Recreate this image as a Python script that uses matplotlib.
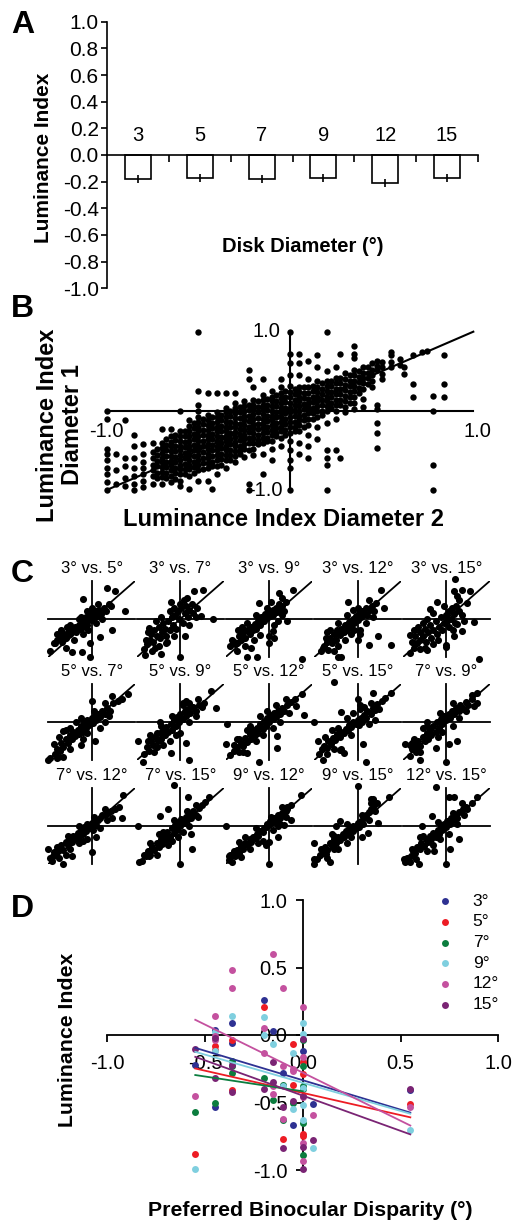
import numpy as np
import matplotlib.pyplot as plt

plt.rcParams["font.family"] = ["Liberation Sans", "DejaVu Sans"]

FIG_W, FIG_H = 514, 1225

# ---------------- Panel A: mean luminance index per disk diameter
diameters = ["3", "5", "7", "9", "12", "15"]
lum_mean = [-0.18, -0.17, -0.18, -0.17, -0.21, -0.17]
lum_sem = [0.03, 0.03, 0.03, 0.03, 0.03, 0.03]

# ---------------- Panel B: all diameter pairs pooled (columns of x with their y values)
b_cols_x = [-1.0, -0.95, -0.9, -0.85, -0.8, -0.75, -0.725, -0.7, -0.675, -0.65,
            -0.625, -0.6, -0.575, -0.55, -0.525, -0.5, -0.475, -0.45, -0.425, -0.4,
            -0.375, -0.35, -0.325, -0.3, -0.275, -0.25, -0.225, -0.2, -0.175, -0.15,
            -0.125, -0.1, -0.075, -0.05, -0.025, 0.0, 0.025, 0.05, 0.075, 0.1,
            0.125, 0.15, 0.175, 0.2, 0.225, 0.25, 0.275, 0.3, 0.325, 0.35,
            0.375, 0.4, 0.425, 0.45, 0.475, 0.5, 0.55, 0.6, 0.62, 0.67,
            0.72, 0.75, 0.78, 0.84]
b_cols_y = [
    [0.0, -0.1, -0.48, -0.55, -0.62, -0.72, -0.8, -0.9, -1.0],
    [-0.55, -0.75, -0.93],
    [-0.12, -0.59, -0.7, -0.85, -0.95],
    [-0.3, -0.45, -0.6, -0.72, -0.82, -0.92, -1.0],
    [-0.42, -0.55, -0.65, -0.72, -0.8, -0.88, -0.96],
    [-0.4, -0.52, -0.6, -0.68, -0.75, -0.82, -0.93],
    [-0.48, -0.56, -0.63, -0.7, -0.78, -0.85],
    [-0.23, -0.4, -0.47, -0.53, -0.59, -0.65, -0.71, -0.77, -0.84, -0.92],
    [-0.36, -0.43, -0.5, -0.57, -0.64, -0.71, -0.78, -0.85],
    [-0.23, -0.32, -0.39, -0.45, -0.51, -0.57, -0.63, -0.69, -0.75, -0.82, -0.9],
    [-0.3, -0.37, -0.44, -0.51, -0.58, -0.65, -0.72, -0.79, -0.86],
    [0.0, -0.26, -0.32, -0.38, -0.44, -0.5, -0.56, -0.62, -0.68, -0.74, -0.8, -0.88, -0.95],
    [-0.25, -0.32, -0.39, -0.46, -0.53, -0.6, -0.67, -0.74, -0.8],
    [-0.12, -0.19, -0.26, -0.32, -0.38, -0.44, -0.5, -0.56, -0.62, -0.68, -0.74, -0.82, -0.99],
    [-0.15, -0.22, -0.29, -0.36, -0.43, -0.5, -0.57, -0.64, -0.71, -0.78],
    [1.0, 0.25, 0.08, 0.0, -0.08, -0.14, -0.2, -0.26, -0.32, -0.38, -0.44, -0.5, -0.56, -0.62, -0.68, -0.75, -0.88],
    [-0.1, -0.17, -0.24, -0.31, -0.38, -0.45, -0.52, -0.59, -0.66, -0.74],
    [0.23, -0.05, -0.12, -0.18, -0.24, -0.3, -0.36, -0.42, -0.48, -0.54, -0.6, -0.66, -0.72, -0.89],
    [-0.08, -0.15, -0.22, -0.29, -0.36, -0.43, -0.5, -0.57, -0.64, -0.7, -0.99],
    [0.23, -0.02, -0.08, -0.14, -0.2, -0.26, -0.32, -0.38, -0.44, -0.5, -0.56, -0.62, -0.7, -0.8],
    [-0.05, -0.12, -0.19, -0.26, -0.33, -0.4, -0.47, -0.54, -0.61, -0.68],
    [0.23, 0.04, -0.02, -0.08, -0.14, -0.2, -0.26, -0.32, -0.38, -0.44, -0.5, -0.56, -0.62, -0.72],
    [0.0, -0.07, -0.14, -0.21, -0.28, -0.35, -0.42, -0.49, -0.56, -0.62],
    [0.23, 0.1, 0.03, -0.03, -0.09, -0.15, -0.21, -0.27, -0.33, -0.39, -0.45, -0.51, -0.57, -0.65],
    [0.05, -0.02, -0.09, -0.16, -0.23, -0.3, -0.37, -0.44, -0.5, -0.55],
    [0.12, 0.06, 0.0, -0.06, -0.12, -0.18, -0.24, -0.3, -0.36, -0.42, -0.48, -0.58],
    [0.51, 0.4, 0.08, 0.01, -0.06, -0.13, -0.2, -0.27, -0.34, -0.41, -0.5, -0.93, -1.0],
    [0.3, 0.14, 0.08, 0.02, -0.04, -0.1, -0.16, -0.22, -0.28, -0.34, -0.4, -0.48, -0.56],
    [0.12, 0.05, -0.02, -0.09, -0.16, -0.23, -0.3, -0.37, -0.42],
    [0.4, 0.2, 0.14, 0.08, 0.02, -0.04, -0.1, -0.16, -0.22, -0.28, -0.34, -0.4, -0.55, -0.8],
    [0.15, 0.08, 0.01, -0.06, -0.13, -0.2, -0.27, -0.34, -0.38],
    [0.25, 0.18, 0.12, 0.06, 0.0, -0.06, -0.12, -0.18, -0.24, -0.3, -0.38, -0.48, -0.62],
    [0.2, 0.13, 0.06, -0.01, -0.08, -0.15, -0.22, -0.28, -0.32],
    [0.4, 0.3, 0.22, 0.16, 0.1, 0.04, -0.02, -0.08, -0.14, -0.2, -0.26, -0.34, -0.45],
    [0.25, 0.18, 0.11, 0.04, -0.03, -0.1, -0.17, -0.24, -0.3],
    [1.0, 0.72, 0.61, 0.45, 0.32, 0.24, 0.17, 0.1, 0.04, -0.02, -0.08, -0.14, -0.2, -0.28, -0.38, -0.5, -0.62, -0.72, -1.0],
    [0.28, 0.21, 0.14, 0.07, 0.0, -0.07, -0.14, -0.21, -0.25],
    [0.72, 0.61, 0.45, 0.3, 0.24, 0.18, 0.12, 0.06, 0.0, -0.06, -0.12, -0.18, -0.25, -0.4, -0.55],
    [0.3, 0.23, 0.16, 0.09, 0.02, -0.05, -0.12, -0.2],
    [0.63, 0.4, 0.3, 0.22, 0.15, 0.09, 0.03, -0.03, -0.1, -0.18, -0.3, -0.45, -0.59],
    [0.32, 0.25, 0.18, 0.11, 0.04, -0.03, -0.1],
    [0.7, 0.55, 0.38, 0.3, 0.24, 0.18, 0.12, 0.06, 0.0, -0.08, -0.2, -0.35],
    [0.35, 0.28, 0.21, 0.14, 0.07, 0.0, -0.05],
    [1.0, 0.5, 0.38, 0.32, 0.25, 0.18, 0.12, 0.06, 0.0, -0.15, -0.5, -0.59, -0.68, -1.0],
    [0.38, 0.31, 0.24, 0.17, 0.1, 0.03],
    [0.55, 0.42, 0.35, 0.28, 0.21, 0.14, 0.07, 0.0, -0.1, -0.5],
    [0.72, 0.42, 0.35, 0.28, 0.21, 0.14, 0.07, -0.59],
    [0.48, 0.4, 0.33, 0.26, 0.19, 0.12, 0.05, -0.02],
    [0.45, 0.38, 0.31, 0.24, 0.17, 0.1],
    [0.82, 0.72, 0.67, 0.52, 0.45, 0.38, 0.32, 0.25, 0.18, 0.1, 0.02],
    [0.5, 0.43, 0.36, 0.29, 0.22],
    [0.55, 0.48, 0.42, 0.35, 0.28, 0.15, 0.05],
    [0.55, 0.48, 0.41, 0.34],
    [0.6, 0.52, 0.45, 0.38, 0.3],
    [0.63, 0.57, 0.51, 0.08, 0.02, -0.15, -0.28, -0.47],
    [0.62, 0.55, 0.47, 0.4],
    [0.74, 0.7, 0.62, 0.55],
    [0.66, 0.58],
    [0.55, 0.46],
    [0.7, 0.34, 0.17],
    [0.74],
    [0.75],
    [0.19, 0.0, -0.68, -1.0],
    [0.7, 0.34, 0.17],
]
b_lims = [-1.0, 1.0]

# ---------------- Panel C: each pair of diameters (x = diameter 2, y = diameter 1)
c_titles = ["3° vs. 5°", "3° vs. 7°", "3° vs. 9°", "3° vs. 12°", "3° vs. 15°",
            "5° vs. 7°", "5° vs. 9°", "5° vs. 12°", "5° vs. 15°", "7° vs. 9°",
            "7° vs. 12°", "7° vs. 15°", "9° vs. 12°", "9° vs. 15°", "12° vs. 15°"]
c_3v5 = [(-0.88, -0.62), (-0.8, -0.55), (-0.72, -0.5), (-0.65, -0.42), (-0.6, -0.5), (-0.55, -0.35),
         (-0.5, -0.4), (-0.48, -0.28), (-0.42, -0.3), (-0.38, -0.2), (-0.35, -0.35), (-0.3, -0.15),
         (-0.28, -0.25), (-0.22, -0.1), (-0.2, -0.2), (-0.15, -0.05), (-0.12, 0.05), (-0.1, -0.15),
         (-0.05, 0.1), (-0.02, -0.02), (0.02, 0.15), (0.05, 0.05), (0.1, 0.2), (0.12, 0.08), (0.18, 0.25),
         (0.22, 0.12), (0.28, 0.3), (0.32, 0.2), (0.4, 0.4), (0.45, 0.35), (-0.68, -0.6), (-0.58, -0.2),
         (-0.25, 0.05), (0.0, 0.3), (-0.08, -0.3), (0.35, 0.82), (0.54, 0.73), (-0.21, 0.52), (0.77, 0.2),
         (0.46, -0.3), (0.19, -0.48), (-0.04, -0.64), (-0.04, -1.0), (-0.45, -0.88), (-0.23, -0.88),
         (-0.85, -0.64), (-0.69, -0.36), (-0.95, -0.85),
         (-0.7, -0.3), (-0.5, -0.15), (-0.3, 0.0), (-0.1, 0.2), (-0.4, -0.55), (-0.2, -0.4),
         (0.1, -0.1), (0.25, 0.0), (-0.6, -0.75), (0.15, 0.4), (-0.8, -0.4)]
c_3v7 = [(-0.85, -0.8), (-0.78, -0.65), (-0.7, -0.55), (-0.68, -0.4), (-0.62, -0.6), (-0.6, -0.3),
         (-0.55, -0.45), (-0.5, -0.2), (-0.48, -0.5), (-0.42, -0.35), (-0.4, -0.1), (-0.35, -0.25),
         (-0.32, -0.45), (-0.28, -0.05), (-0.25, -0.3), (-0.2, 0.05), (-0.18, -0.15), (-0.12, 0.1),
         (-0.1, -0.25), (-0.05, 0.2), (-0.02, 0.0), (0.02, 0.3), (0.05, -0.1), (0.1, 0.15), (0.12, 0.35),
         (0.18, 0.05), (0.2, 0.25), (0.28, 0.4), (0.3, 0.15), (0.38, 0.3), (-0.15, 0.3), (0.08, 0.5),
         (-0.58, -0.75), (-0.3, -0.6), (0.32, 0.73), (0.52, 0.77), (-0.22, 0.45), (0.75, 0.0), (0.48, 0.09),
         (-0.72, -0.23), (-0.79, -0.55), (-0.45, -0.91), (-0.81, -0.95), (0.0, -1.0), (-0.56, -0.05),
         (-0.33, -0.64), (0.1, -0.45),
         (-0.75, -0.35), (-0.45, 0.05), (-0.25, 0.2), (0.0, 0.4), (-0.5, -0.7), (-0.15, -0.45),
         (0.2, -0.15), (0.35, 0.05), (-0.65, -0.85), (0.15, 0.55)]
c_3v9 = [(-0.9, -0.7), (-0.82, -0.6), (-0.75, -0.62), (-0.7, -0.45), (-0.65, -0.55), (-0.6, -0.38),
         (-0.55, -0.5), (-0.5, -0.3), (-0.45, -0.4), (-0.42, -0.2), (-0.38, -0.3), (-0.32, -0.12),
         (-0.3, -0.25), (-0.25, -0.05), (-0.2, -0.15), (-0.18, 0.05), (-0.12, -0.05), (-0.1, 0.12),
         (-0.05, 0.02), (0.0, 0.18), (0.02, 0.08), (0.08, 0.25), (0.1, 0.1), (0.15, 0.3), (0.18, 0.18),
         (0.22, 0.4), (0.25, 0.25), (0.3, 0.35), (0.35, 0.2), (0.4, 0.45), (-0.35, -0.55), (0.05, 0.45),
         (-0.62, -0.2), (0.12, -0.15), (0.55, 0.77), (0.23, 0.68), (-0.23, 0.41), (0.42, -0.05),
         (0.08, -0.32), (0.0, -0.64), (-0.42, -0.77), (-0.5, -1.0), (-0.27, -1.0), (0.77, -1.05),
         (-0.85, -0.55), (-0.78, -0.65), (0.0, -0.45), (0.12, -0.5),
         (-0.72, -0.3), (-0.5, -0.1), (-0.3, 0.1), (-0.05, 0.3), (-0.55, -0.72), (-0.2, -0.42),
         (0.2, -0.05), (0.3, 0.1), (-0.75, -0.85), (0.3, 0.55)]
c_3v12 = [(-0.85, -0.85), (-0.78, -0.7), (-0.72, -0.6), (-0.65, -0.5), (-0.6, -0.62), (-0.55, -0.4),
          (-0.5, -0.55), (-0.48, -0.3), (-0.42, -0.42), (-0.38, -0.25), (-0.32, -0.35), (-0.3, -0.15),
          (-0.25, -0.28), (-0.2, -0.08), (-0.15, -0.2), (-0.12, 0.0), (-0.08, -0.1), (-0.05, 0.08),
          (0.0, -0.02), (0.02, 0.15), (0.08, 0.05), (0.1, 0.22), (0.15, 0.12), (0.2, 0.28), (0.22, 0.1),
          (0.28, 0.25), (0.32, 0.35), (0.38, 0.2), (0.42, 0.42), (-0.65, -0.3), (-0.3, -0.55), (0.05, -0.3),
          (-0.1, 0.25), (0.54, 0.77), (-0.23, 0.45), (0.46, -0.45), (0.77, -0.68), (0.27, -0.68),
          (0.0, -0.55), (-0.08, -0.3), (0.05, -0.4), (-0.46, -1.0), (-0.38, -1.0), (-0.81, -0.77),
          (-0.73, -0.5), (-0.55, -0.85), (0.6, 0.3),
          (-0.7, -0.35), (-0.45, -0.1), (-0.25, 0.1), (0.0, 0.3), (-0.45, -0.7), (-0.15, -0.4),
          (0.2, -0.1), (0.35, 0.05), (-0.68, -0.82), (0.25, 0.5)]
c_3v15 = [(-0.85, -0.9), (-0.8, -0.6), (-0.75, -0.75), (-0.72, -0.45), (-0.68, -0.62), (-0.62, -0.35),
          (-0.6, -0.55), (-0.55, -0.45), (-0.5, -0.25), (-0.48, -0.6), (-0.42, -0.35), (-0.38, -0.15),
          (-0.35, -0.5), (-0.3, -0.28), (-0.25, -0.05), (-0.22, -0.4), (-0.18, -0.2), (-0.12, 0.05),
          (-0.1, -0.3), (-0.05, -0.1), (0.0, 0.1), (0.02, -0.05), (0.05, 0.2), (0.1, 0.0), (0.12, 0.3),
          (0.18, 0.12), (0.22, 0.35), (0.28, 0.2), (0.3, 0.5), (0.35, 0.1), (-0.45, 0.0), (-0.65, -0.2),
          (0.05, -0.2), (0.2, -0.1), (0.19, 1.06), (0.35, 0.77), (0.17, 0.73), (0.55, 0.73), (-0.22, 0.45),
          (-0.37, 0.27), (0.48, 0.41), (0.25, -0.14), (0.63, -0.09), (0.17, -0.45), (0.36, -0.32),
          (0.0, -0.73), (0.0, -0.68), (0.75, -1.05), (-0.83, -0.41), (-0.75, -0.64), (-0.45, -0.82),
          (-0.3, -0.65),
          (-0.75, -0.3), (-0.55, -0.1), (-0.3, 0.15), (-0.05, 0.35), (-0.6, -0.8), (-0.2, -0.55),
          (0.15, -0.3), (0.4, -0.05), (-0.5, -0.75), (0.25, 0.6)]
c_5v7 = [(-0.95, -0.95), (-0.85, -0.85), (-0.8, -0.7), (-0.72, -0.75), (-0.7, -0.55), (-0.65, -0.65),
         (-0.6, -0.45), (-0.55, -0.55), (-0.5, -0.35), (-0.45, -0.45), (-0.42, -0.25), (-0.38, -0.38),
         (-0.32, -0.2), (-0.3, -0.32), (-0.25, -0.1), (-0.2, -0.25), (-0.18, -0.02), (-0.12, -0.15),
         (-0.1, 0.05), (-0.05, -0.08), (0.0, 0.1), (0.02, -0.02), (0.08, 0.15), (0.1, 0.05), (0.15, 0.22),
         (0.2, 0.12), (0.25, 0.3), (0.3, 0.2), (0.35, 0.38), (0.42, 0.3), (0.5, 0.5), (0.6, 0.55),
         (-0.6, -0.2), (-0.2, -0.45), (0.2, -0.15), (-0.35, 0.0), (0.85, 0.73), (0.46, 0.68), (0.0, 0.55),
         (-0.88, -0.59), (-1.0, -1.0), (-0.77, -0.91), (-0.65, -0.91), (0.08, -0.5), (-0.65, -0.23),
         (-0.25, -0.6), (0.7, 0.6),
         (-0.75, -0.4), (-0.5, -0.15), (-0.25, 0.1), (0.05, 0.3), (-0.5, -0.7), (-0.1, -0.3),
         (0.3, 0.0), (0.4, 0.15), (-0.8, -0.95), (0.3, 0.5)]
c_5v9 = [(-0.85, -0.85), (-0.78, -0.65), (-0.72, -0.75), (-0.68, -0.5), (-0.62, -0.6), (-0.58, -0.4),
         (-0.52, -0.5), (-0.48, -0.3), (-0.45, -0.45), (-0.4, -0.2), (-0.35, -0.35), (-0.32, -0.12),
         (-0.28, -0.25), (-0.22, -0.05), (-0.2, -0.2), (-0.15, 0.05), (-0.1, -0.1), (-0.08, 0.12),
         (-0.02, 0.0), (0.0, 0.2), (0.05, 0.08), (0.1, 0.3), (0.12, 0.15), (0.18, 0.35), (0.22, 0.25),
         (0.3, 0.4), (0.35, 0.3), (0.42, 0.45), (0.5, 0.4), (0.55, 0.5), (-0.55, -0.65), (-0.25, -0.5),
         (0.0, -0.3), (0.05, 0.45), (0.82, 0.36), (0.7, 0.82), (0.13, 0.55), (0.05, 0.5), (-0.98, -0.5),
         (-0.87, -1.05), (-0.22, -0.82), (0.13, -0.55), (0.21, -1.0), (-0.48, 0.0), (-0.55, -0.3),
         (-0.4, -0.6),
         (-0.7, -0.35), (-0.45, -0.1), (-0.2, 0.15), (0.2, 0.5), (-0.6, -0.8), (-0.1, -0.35),
         (0.2, 0.0), (0.35, 0.15), (-0.75, -0.5), (0.4, 0.6)]
c_5v12 = [(-0.9, -0.88), (-0.82, -0.75), (-0.75, -0.65), (-0.7, -0.78), (-0.65, -0.55), (-0.6, -0.62),
          (-0.55, -0.42), (-0.5, -0.52), (-0.45, -0.32), (-0.42, -0.45), (-0.38, -0.22), (-0.32, -0.35),
          (-0.28, -0.15), (-0.25, -0.28), (-0.2, -0.05), (-0.15, -0.18), (-0.12, 0.02), (-0.08, -0.1),
          (-0.05, 0.1), (0.0, 0.0), (0.03, 0.18), (0.08, 0.08), (0.12, 0.25), (0.15, 0.12), (0.2, 0.3),
          (0.25, 0.2), (0.3, 0.38), (0.35, 0.28), (0.42, 0.45), (0.5, 0.52), (0.6, 0.6), (-0.3, -0.5),
          (-0.5, -0.2), (0.1, -0.15), (-0.05, 0.3), (0.81, 0.18), (1.04, 0.0), (-0.96, -0.05),
          (-1.0, -0.59), (-0.5, -0.82), (-0.23, -1.05), (0.19, -0.68), (0.19, -0.36), (0.62, 0.41),
          (0.75, 0.75), (-0.7, -0.45),
          (-0.75, -0.45), (-0.45, -0.1), (-0.2, 0.15), (0.15, 0.45), (-0.6, -0.8), (-0.15, -0.35),
          (0.25, 0.0), (0.45, 0.25), (-0.8, -0.6), (0.4, 0.6)]
c_5v15 = [(-0.9, -0.85), (-0.82, -0.72), (-0.78, -0.62), (-0.72, -0.68), (-0.68, -0.5), (-0.62, -0.58),
          (-0.58, -0.42), (-0.52, -0.48), (-0.48, -0.32), (-0.42, -0.4), (-0.38, -0.25), (-0.32, -0.3),
          (-0.28, -0.18), (-0.22, -0.22), (-0.2, -0.08), (-0.15, -0.12), (-0.1, 0.0), (-0.05, -0.05),
          (0.0, 0.05), (0.02, -0.08), (0.08, 0.1), (0.1, 0.0), (0.15, 0.18), (0.2, 0.1), (0.22, 0.28),
          (0.3, 0.22), (0.35, 0.38), (0.4, 0.32), (0.45, 0.48), (0.55, 0.55), (0.62, 0.62), (-0.6, -0.2),
          (-0.1, 0.25), (0.05, 0.35), (-0.54, 1.05), (0.77, 0.77), (0.35, 0.77), (0.0, 0.6), (-0.38, 0.27),
          (0.05, 0.45), (-0.92, -0.5), (-0.42, -0.73), (-0.31, -0.82), (-0.38, -0.7), (0.12, -0.59),
          (0.19, -1.05), (-0.81, -1.0), (0.4, 0.05),
          (-0.75, -0.4), (-0.45, -0.15), (-0.25, 0.1), (0.15, 0.4), (-0.55, -0.7), (-0.15, -0.35),
          (0.25, -0.05), (0.5, 0.35), (-0.7, -0.85), (0.3, 0.5)]
c_7v9 = [(-0.85, -0.9), (-0.8, -0.72), (-0.72, -0.6), (-0.7, -0.78), (-0.65, -0.5), (-0.6, -0.62),
         (-0.55, -0.4), (-0.5, -0.5), (-0.45, -0.3), (-0.42, -0.45), (-0.38, -0.2), (-0.35, -0.35),
         (-0.3, -0.1), (-0.25, -0.25), (-0.22, 0.0), (-0.18, -0.15), (-0.12, 0.08), (-0.1, -0.05),
         (-0.05, 0.15), (0.0, 0.05), (0.05, 0.22), (0.08, 0.1), (0.12, 0.3), (0.18, 0.2), (0.22, 0.38),
         (0.28, 0.28), (0.32, 0.45), (0.38, 0.35), (0.45, 0.52), (0.5, 0.45), (0.58, 0.6), (-0.55, -0.15),
         (-0.2, -0.4), (0.15, -0.1), (0.71, 0.77), (0.63, 0.41), (-0.45, 0.0), (0.25, -0.5),
         (-0.25, -0.68), (0.05, -0.59), (0.0, -1.05), (-0.95, -0.59), (-0.85, -0.6), (-0.68, -0.77),
         (-0.6, -1.0), (0.7, 0.5),
         (-0.75, -0.45), (-0.45, -0.1), (-0.15, 0.25), (0.15, 0.5), (-0.6, -0.8), (-0.1, -0.25),
         (0.3, 0.1), (0.45, 0.3), (-0.8, -0.55), (0.6, 0.7)]
c_7v12 = [(-0.9, -0.78), (-0.82, -0.7), (-0.75, -0.6), (-0.7, -0.5), (-0.65, -0.62), (-0.6, -0.42),
          (-0.55, -0.5), (-0.5, -0.35), (-0.45, -0.42), (-0.42, -0.25), (-0.38, -0.35), (-0.32, -0.18),
          (-0.3, -0.3), (-0.25, -0.1), (-0.2, -0.22), (-0.18, -0.02), (-0.12, -0.12), (-0.1, 0.05),
          (-0.05, -0.05), (0.0, 0.08), (0.02, -0.1), (0.08, 0.12), (0.1, 0.02), (0.15, 0.15), (0.2, 0.2),
          (0.25, 0.28), (0.3, 0.3), (0.38, 0.35), (0.45, 0.4), (-0.5, -0.6), (-0.3, -0.45), (0.1, -0.3),
          (-0.1, -0.35), (0.73, 0.81), (0.69, 0.22), (0.46, 0.22), (0.62, 0.49), (0.55, 0.45),
          (0.0, -0.69), (-1.0, -0.6), (-0.88, -0.69), (-0.92, -0.92), (-0.65, -1.0), (-0.46, -0.78),
          (-0.95, -0.85),
          (-0.8, -0.55), (-0.55, -0.25), (-0.3, 0.0), (0.05, 0.25), (-0.6, -0.75), (-0.2, -0.4),
          (0.2, -0.05), (0.35, 0.15), (-0.75, -0.85), (0.3, 0.45)]
c_7v15 = [(-0.88, -0.92), (-0.8, -0.8), (-0.75, -0.65), (-0.7, -0.75), (-0.65, -0.55), (-0.6, -0.62),
          (-0.55, -0.45), (-0.5, -0.55), (-0.45, -0.35), (-0.42, -0.48), (-0.38, -0.25), (-0.32, -0.38),
          (-0.3, -0.15), (-0.25, -0.28), (-0.2, -0.05), (-0.15, -0.18), (-0.12, 0.02), (-0.08, -0.1),
          (-0.05, 0.1), (0.0, 0.0), (0.02, 0.18), (0.08, 0.08), (0.12, 0.25), (0.15, 0.15), (0.2, 0.32),
          (0.25, 0.22), (0.3, 0.4), (0.35, 0.3), (0.42, 0.48), (0.5, 0.55), (0.58, 0.62), (-0.05, -0.3),
          (-0.5, -0.2), (0.05, -0.15), (-0.14, 1.08), (0.17, 0.76), (-0.29, 0.45), (-0.48, 0.26),
          (0.67, 0.76), (-0.98, 0.0), (0.28, -0.6), (0.0, -1.0), (-0.29, -0.5), (-0.95, -0.96),
          (-0.72, -0.78), (0.25, -0.2),
          (-0.7, -0.45), (-0.4, -0.15), (-0.15, 0.15), (0.15, 0.4), (-0.55, -0.75), (-0.2, -0.4),
          (0.2, 0.0), (0.4, 0.25), (-0.85, -0.75), (0.35, 0.55)]
c_9v12 = [(-0.92, -0.9), (-0.85, -0.75), (-0.78, -0.8), (-0.75, -0.62), (-0.7, -0.7), (-0.65, -0.52),
          (-0.6, -0.6), (-0.55, -0.45), (-0.5, -0.5), (-0.45, -0.35), (-0.42, -0.42), (-0.38, -0.28),
          (-0.32, -0.32), (-0.28, -0.2), (-0.25, -0.25), (-0.2, -0.12), (-0.15, -0.15), (-0.12, -0.05),
          (-0.08, -0.02), (-0.05, 0.05), (0.0, 0.02), (0.03, 0.12), (0.08, 0.1), (0.12, 0.2), (0.15, 0.15),
          (0.2, 0.28), (0.25, 0.22), (0.3, 0.35), (0.35, 0.3), (0.42, 0.45), (0.5, 0.55), (-0.45, -0.6),
          (-0.15, -0.4), (0.1, -0.1), (0.2, 0.0), (0.73, 0.81), (0.42, 0.49), (0.38, 0.4), (0.5, 0.17),
          (0.35, 0.03), (-1.0, 0.0), (0.0, -1.0), (-0.92, -0.78), (-0.85, -0.96), (-0.69, -0.42),
          (0.0, -0.42), (-0.08, -0.51), (0.2, -0.3),
          (-0.8, -0.65), (-0.55, -0.3), (-0.3, -0.05), (0.05, 0.25), (-0.65, -0.82), (-0.25, -0.45),
          (0.25, 0.05), (0.4, 0.25), (-0.9, -0.75), (0.3, 0.5)]
c_9v15 = [(-0.95, -0.88), (-0.88, -0.75), (-0.8, -0.7), (-0.75, -0.55), (-0.7, -0.62), (-0.65, -0.45),
          (-0.6, -0.52), (-0.55, -0.35), (-0.5, -0.45), (-0.45, -0.28), (-0.4, -0.38), (-0.35, -0.2),
          (-0.32, -0.3), (-0.28, -0.12), (-0.22, -0.2), (-0.18, -0.05), (-0.12, -0.12), (-0.1, 0.0),
          (-0.05, -0.05), (0.0, 0.08), (0.02, -0.02), (0.08, 0.12), (0.12, 0.05), (0.15, 0.2), (0.2, 0.3),
          (0.25, 0.38), (0.3, 0.45), (0.38, 0.55), (0.45, 0.6), (-0.55, -0.6), (-0.25, -0.45), (-0.6, -0.2),
          (0.0, 1.06), (0.31, 0.72), (0.35, 0.7), (0.73, 0.76), (0.46, 0.08), (-0.5, 0.0), (-0.4, 0.12),
          (0.23, -0.19), (-1.0, -0.46), (-1.0, -0.87), (-1.0, -1.0), (-0.73, -0.73), (-0.65, -0.95),
          (0.1, -0.3),
          (-0.85, -0.6), (-0.55, -0.25), (-0.25, 0.05), (0.1, 0.3), (-0.7, -0.85), (-0.15, -0.3),
          (0.25, 0.15), (0.4, 0.4), (-0.45, -0.6), (0.3, 0.6)]
c_12v15 = [(-0.9, -0.85), (-0.82, -0.78), (-0.78, -0.65), (-0.72, -0.7), (-0.68, -0.55), (-0.62, -0.6),
           (-0.58, -0.45), (-0.52, -0.52), (-0.48, -0.35), (-0.42, -0.42), (-0.38, -0.25), (-0.35, -0.35),
           (-0.3, -0.18), (-0.25, -0.28), (-0.2, -0.1), (-0.18, -0.2), (-0.12, 0.0), (-0.1, -0.1),
           (-0.05, 0.05), (0.0, -0.02), (0.02, 0.12), (0.08, 0.05), (0.1, 0.2), (0.15, 0.15), (0.2, 0.3),
           (0.25, 0.22), (0.3, 0.38), (0.38, 0.45), (0.45, 0.5), (-0.6, -0.3), (-0.3, -0.5), (0.05, -0.2),
           (-0.25, 1.03), (0.05, 0.76), (0.17, 0.76), (0.71, 0.76), (0.48, 0.45), (-0.56, 0.0),
           (-0.33, 0.26), (0.09, -0.6), (0.28, -0.33), (0.0, -1.0), (-0.98, -0.87), (-0.95, -0.96),
           (-0.83, -0.96), (-0.64, -1.0), (-0.29, -0.66), (0.6, 0.6),
           (-0.8, -0.6), (-0.55, -0.25), (-0.2, 0.1), (0.15, 0.35), (-0.7, -0.88), (-0.15, -0.35),
           (0.25, 0.05), (0.4, 0.3), (-0.45, -0.65), (0.35, 0.6)]
c_panels = [c_3v5, c_3v7, c_3v9, c_3v12, c_3v15, c_5v7, c_5v9, c_5v12, c_5v15, c_7v9,
            c_7v12, c_7v15, c_9v12, c_9v15, c_12v15]

# ---------------- Panel D: luminance index vs preferred disparity
d_labels = ["3°", "5°", "7°", "9°", "12°", "15°"]
d_colors = ["#2E3192", "#ED1C24", "#0B7D3E", "#7FCFDF", "#C4519F", "#7A2474"]
d_disp = [
    [-0.55, -0.45, -0.45, -0.36, -0.36, -0.20, -0.15, -0.10, -0.05, 0.0, 0.05, 0.55],
    [-0.55, -0.45, -0.45, -0.36, -0.36, -0.20, -0.10, -0.05, -0.05, 0.0, 0.0, 0.0, 0.0, 0.55],
    [-0.55, -0.45, -0.36, -0.36, -0.36, -0.20, -0.15, -0.10, -0.10, -0.05, 0.0, 0.0, 0.0, 0.0,
     0.0, 0.0],
    [-0.55, -0.45, -0.45, -0.36, -0.20, -0.20, -0.15, -0.10, -0.05, -0.05, 0.0, 0.0, 0.0, 0.0,
     0.0, 0.05, 0.55],
    [-0.55, -0.45, -0.45, -0.45, -0.36, -0.36, -0.20, -0.20, -0.15, -0.15, -0.15, -0.10, -0.10,
     -0.10, -0.05, -0.05, 0.0, 0.0, 0.0, 0.0, 0.0, 0.05, 0.55],
    [-0.55, -0.45, -0.45, -0.36, -0.36, -0.20, -0.15, -0.15, -0.10, -0.10, -0.05, 0.0, 0.0, 0.0,
     0.0, 0.05, 0.55],
]
d_lum = [
    [-0.22, 0.04, -0.53, 0.09, -0.06, 0.26, 0.03, -0.28, -0.67, -0.12, -0.51, -0.41],
    [-0.88, -0.08, -0.11, -0.04, -0.41, 0.21, -0.77, -0.07, -0.37, -0.20, -0.29, -0.73, -0.75, -0.51],
    [-0.57, -0.50, -0.19, -0.23, -0.28, -0.32, -0.48, -0.37, -0.63, -0.50, -0.04, -0.23, -0.38,
     -0.40, -0.65, -0.89],
    [-0.99, 0.02, -0.12, 0.14, 0.13, 0.0, -0.07, -0.38, -0.13, -0.55, 0.09, 0.01, -0.39, -0.52,
     -0.63, -0.84, -0.70],
    [-0.45, 0.14, -0.01, -0.04, 0.48, 0.35, 0.05, -0.13, 0.60, -0.38, -0.44, 0.35, -0.23, -0.62,
     -0.25, -0.27, 0.21, -0.16, -0.46, -0.80, -0.93, -0.59, -0.53],
    [-0.10, -0.02, -0.32, -0.22, -0.42, -0.40, -0.20, -0.35, -0.53, -0.84, -0.49, -0.03, -0.45,
     -0.83, -0.99, -0.78, -0.40],
]
d_slope = [-0.436, -0.329, -0.219, -0.417, -0.712, -0.522]
d_intercept = [-0.335, -0.429, -0.417, -0.354, -0.279, -0.449]


def axes_px(fig, left, top, right, bottom):
    return fig.add_axes([left / FIG_W, 1 - bottom / FIG_H,
                         (right - left) / FIG_W, (bottom - top) / FIG_H])


def text_px(fig, x, y, s, **kw):
    return fig.text(x / FIG_W, 1 - y / FIG_H, s, **kw)


def tick_text(vals):
    return [f"{v + 0.0:.1f}" for v in vals]


fig = plt.figure(figsize=(FIG_W / 100, FIG_H / 100), dpi=100)

# ---- A
ax = axes_px(fig, 107, 21.7, 478, 288.3)
pos = np.arange(len(diameters)) + 0.5
mean = np.array(lum_mean)
sem = np.array(lum_sem)
ax.bar(pos, mean, width=0.42, color="white", edgecolor="black", linewidth=1.2, zorder=2)
ax.vlines(pos, mean - sem, mean + sem, color="black", linewidth=1.2, zorder=3)
ax.set_xlim(0, len(diameters))
ax.set_ylim(-1, 1)
ax.spines[["top", "right"]].set_visible(False)
ax.spines["bottom"].set_position(("data", 0))
ax.spines[["left", "bottom"]].set_linewidth(1.2)
ax.set_xticks(np.arange(1, len(diameters) + 1))
ax.set_xticklabels([])
ax.tick_params(axis="x", direction="out", length=5, width=1.2)
yt = np.round(np.arange(-1, 1.01, 0.2), 1)
ax.set_yticks(yt)
ax.set_yticklabels(tick_text(yt), fontsize=15)
ax.tick_params(axis="y", direction="out", length=4, width=1.2, pad=2)
for p, lab in zip(pos, diameters):
    ax.text(p, 0.15, lab, ha="center", va="center", fontsize=14.5)
ax.text(3.17, -0.69, "Disk Diameter (°)", ha="center", va="center",
        fontsize=14.5, fontweight="bold")
ax.patch.set_alpha(0)
text_px(fig, 43.3, 157.5, "Luminance Index", rotation=90, ha="center", va="center",
        fontsize=15, fontweight="bold")

# ---- B
ax = axes_px(fig, 106.7, 331.7, 473.3, 490)
b_x = np.concatenate([[x] * len(ys) for x, ys in zip(b_cols_x, b_cols_y)])
b_y = np.concatenate(b_cols_y)
ax.scatter(b_x, b_y, s=21, color="black", linewidths=0, clip_on=False, zorder=3)
ax.plot(b_lims, b_lims, color="black", linewidth=1.5, zorder=2, clip_on=False)
ax.set_xlim(b_lims)
ax.set_ylim(b_lims)
ax.spines[["top", "right"]].set_visible(False)
ax.spines["left"].set_position(("data", 0))
ax.spines["bottom"].set_position(("data", 0))
ax.spines[["left", "bottom"]].set_linewidth(1.5)
ax.set_xticks([])
ax.set_yticks([])
ax.patch.set_alpha(0)
ax.text(-0.05, b_lims[1], "1.0", ha="right", va="center", fontsize=14.5)
ax.text(-0.04, b_lims[0], "-1.0", ha="right", va="center", fontsize=14.5)
ax.text(b_lims[0], -0.265, "-1.0", ha="center", va="center", fontsize=14.5)
ax.text(1.02, -0.265, "1.0", ha="center", va="center", fontsize=14.5)
text_px(fig, 60, 425, "Luminance Index\nDiameter 1", rotation=90, ha="center",
        va="center", multialignment="center", fontsize=17, fontweight="bold",
        linespacing=1.1)
text_px(fig, 283.3, 520, "Luminance Index Diameter 2", ha="center", va="center",
        fontsize=17, fontweight="bold")

# ---- C
c_left0, c_step, c_width = 48.3, 88.7, 86.7
c_tops, c_height = [581, 684, 788], 76
for k, (title, pts) in enumerate(zip(c_titles, c_panels)):
    r, c = divmod(k, 5)
    left = c_left0 + c * c_step
    ax = axes_px(fig, left, c_tops[r], left + c_width, c_tops[r] + c_height)
    xs, ys = zip(*pts)
    ax.scatter(xs, ys, s=26, color="black", linewidths=0, clip_on=False, zorder=3)
    ax.plot(b_lims, b_lims, color="black", linewidth=1.3, zorder=2)
    ax.set_xlim(b_lims)
    ax.set_ylim(b_lims)
    ax.spines[["top", "right"]].set_visible(False)
    ax.spines["left"].set_position(("data", 0))
    ax.spines["bottom"].set_position(("data", 0))
    ax.spines[["left", "bottom"]].set_linewidth(1.3)
    ax.set_xticks([])
    ax.set_yticks([])
    ax.patch.set_alpha(0)
    ax.set_title(title, fontsize=12, pad=6)

# ---- D
ax = axes_px(fig, 107.3, 900, 498.3, 1170)
handles = []
for lab, col, xs, ys in zip(d_labels, d_colors, d_disp, d_lum):
    h = ax.scatter(xs, ys, s=25, color=col, linewidths=0, clip_on=False, zorder=3)
    handles.append(h)
for col, xs, m, b0 in zip(d_colors, d_disp, d_slope, d_intercept):
    fx = np.array([min(xs), max(xs)])
    ax.plot(fx, m * fx + b0, color=col, linewidth=1.3, zorder=4)
ax.set_xlim(-1, 1)
ax.set_ylim(-1, 1)
ax.spines[["top", "right"]].set_visible(False)
ax.spines["left"].set_position(("data", 0))
ax.spines["bottom"].set_position(("data", 0))
ax.spines[["left", "bottom"]].set_linewidth(1.3)
dt = [-1.0, -0.5, 0.0, 0.5, 1.0]
ax.set_xticks(dt)
ax.set_xticklabels(tick_text(dt), fontsize=14.5)
ax.set_yticks(dt)
ax.set_yticklabels(tick_text(dt), fontsize=14.5)
ax.tick_params(axis="x", direction="out", length=5, width=1.3, pad=9)
ax.tick_params(axis="y", direction="out", length=5, width=1.3, pad=6)
ax.patch.set_alpha(0)
ax.legend(handles, d_labels, loc="upper left", bbox_to_anchor=(438 / FIG_W, 1 - 893.5 / FIG_H),
          bbox_transform=fig.transFigure, frameon=False, fontsize=12.5, handlelength=0.8,
          handletextpad=1.2, labelspacing=0.32, borderpad=0, borderaxespad=0, scatterpoints=1)
text_px(fig, 67.5, 1040, "Luminance Index", rotation=90, ha="center", va="center",
        fontsize=15.3, fontweight="bold")
text_px(fig, 310, 1210, "Preferred Binocular Disparity (°)", ha="center", va="center",
        fontsize=15.3, fontweight="bold")

# ---- panel letters
for letter, base in zip("ABCD", [33.3, 316.7, 582.5, 916.7]):
    text_px(fig, 11, base, letter, ha="left", va="baseline", fontsize=23, fontweight="bold")

fig.savefig("out.png", dpi=100)
plt.close(fig)
